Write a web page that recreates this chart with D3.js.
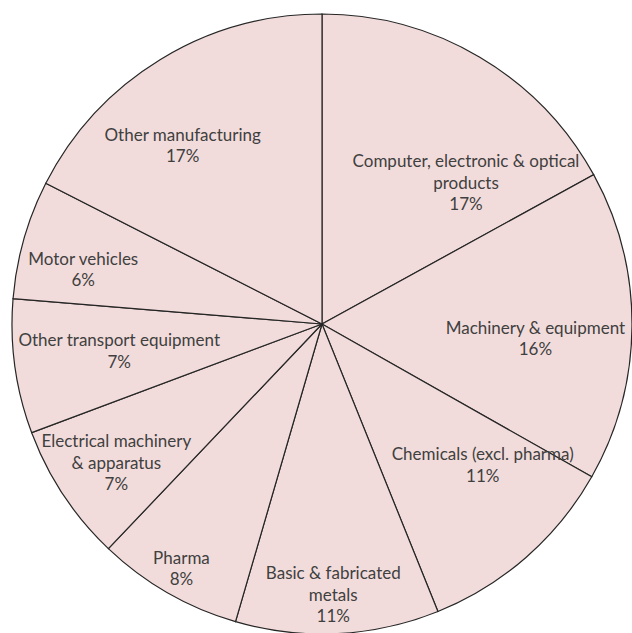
<!DOCTYPE html>
<meta charset="utf-8">
<style>
  body { margin: 0; background: #fff; }
  svg { position: absolute; top: 0; left: 0; }
  .slice { fill: #f2dcdb; stroke: #262626; stroke-width: 1.2px; }
  text {
    font-family: 'Lato', 'Liberation Sans', sans-serif;
    font-size: 17px;
    fill: #404040;
    text-anchor: middle;
  }
</style>
<script src="https://d3js.org/d3.v7.min.js"></script>
<svg width="632" height="633"></svg>
<script>
  // sectors, clockwise from 12 o'clock
  var names = [
    ["Computer, electronic & optical", "products"],
    ["Machinery & equipment"],
    ["Chemicals (excl. pharma)"],
    ["Basic & fabricated", "metals"],
    ["Pharma"],
    ["Electrical machinery", "& apparatus"],
    ["Other transport equipment"],
    ["Motor vehicles"],
    ["Other manufacturing"]
  ];
  var shares = [17.0, 16.2, 10.7, 10.6, 7.6, 7.2, 7.0, 6.2, 17.5];
  var pctLabels = ["17%", "16%", "11%", "11%", "8%", "7%", "7%", "6%", "17%"];

  // where excel's "best fit" put each label: angle shift (deg) from the slice middle, distance as part of radius
  var labelShift = [15, 3.5, -7.5, 0.5, 0, -0.5, 0.3, -3, -6.5];
  var labelDist  = [0.65, 0.69, 0.69, 0.875, 0.91, 0.80, 0.66, 0.79, 0.73];

  var svg = d3.select("svg"),
      cx = 322, cy = 324, radius = 310;

  var g = svg.append("g").attr("transform", "translate(" + cx + "," + cy + ")");

  var pie = d3.pie().sort(null).value(function(d) { return d; });
  var arcs = pie(shares);
  var arc = d3.arc().innerRadius(0).outerRadius(radius);

  g.selectAll("path")
    .data(arcs)
    .enter().append("path")
    .attr("class", "slice")
    .attr("d", arc);

  var lineH = 21.5;
  var lbl = g.selectAll("text")
    .data(arcs)
    .enter().append("text")
    .attr("transform", function(d, i) {
      var a = (d.startAngle + d.endAngle) / 2 + labelShift[i] * Math.PI / 180;
      var r = radius * labelDist[i];
      return "translate(" + (Math.sin(a) * r) + "," + (-Math.cos(a) * r) + ")";
    });

  lbl.each(function(d, i) {
    var lines = names[i].concat([pctLabels[i]]);
    var t = d3.select(this);
    var y0 = -(lines.length - 1) * lineH / 2;
    lines.forEach(function(s, k) {
      t.append("tspan").attr("x", 0).attr("y", y0 + k * lineH).attr("dy", "0.35em").text(s);
    });
  });
</script>
